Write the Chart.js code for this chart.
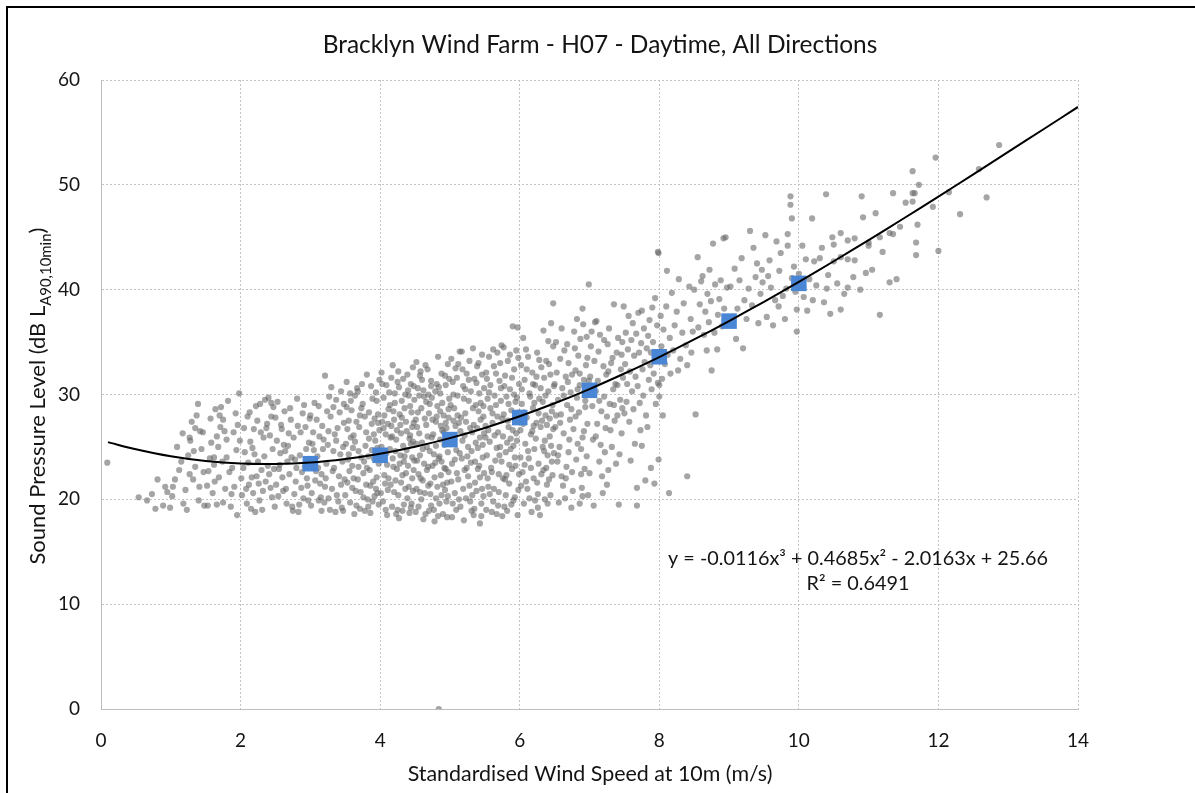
<!DOCTYPE html>
<html><head><meta charset="utf-8">
<script src="https://cdn.jsdelivr.net/npm/chart.js@4.4.1/dist/chart.umd.min.js"></script>
<style>html,body{margin:0;padding:0;background:#fff;}canvas{display:block;}</style>
</head><body><canvas id="c" width="1195" height="793"></canvas>
<script>
const chartTitle = 'Bracklyn Wind Farm - H07 - Daytime, All Directions';
const xAxisTitle = 'Standardised Wind Speed at 10m (m/s)';
const yAxisTitleMain = 'Sound Pressure Level (dB L';
const yAxisTitleSub = 'A90,10min';
const yAxisTitleEnd = ')';
const trendEquation = 'y = -0.0116x³ + 0.4685x² - 2.0163x + 25.66';
const trendR2 = 'R² = 0.6491';

const xTicks = [0, 2, 4, 6, 8, 10, 12, 14];
const yTicks = [0, 10, 20, 30, 40, 50, 60];

// bin-average squares
const binX = [3, 4, 5, 6, 7, 8, 9, 10];
const binY = [23.4, 24.2, 25.7, 27.8, 30.4, 33.6, 37.0, 40.6];

// trend line
const trendX = [0.1,0.5,1,1.5,2,2.5,3,3.5,4,4.5,5,5.5,6,6.5,7,7.5,8,8.5,9,9.5,10,10.5,11,11.5,12,12.5,13,13.5,14];
const trendY = [25.46,24.77,24.10,23.65,23.41,23.37,23.51,23.85,24.35,25.02,25.84,26.81,27.92,29.16,30.52,32.00,33.57,35.25,37.01,38.84,40.75,42.71,44.73,46.79,48.88,51.00,53.14,55.28,57.43];

// measured 10-min points [wind speed, level]
const measuredLow = [
[0.09,23.5],[0.54,20.2],[0.73,20.5],[0.89,19.4],[0.99,19.2],[0.92,21.2],[0.66,19.9],[0.81,21.9],[0.95,20.7],[0.78,19.1],
[1.03,21.2],[1.06,21.9],[1.02,20.3],[1.17,26.3],[1.39,29.1],[1.27,25.9],[1.28,25.6],[1.35,26.8],[1.42,26.5],[1.46,26.4],[1.25,24.2],[1.35,23.1],[1.27,22.4],[1.32,21.9],[1.18,19.6],[1.40,19.9],[1.48,19.4],[1.12,22.8],[1.21,20.9],[1.44,24.8],[1.09,25.0],[1.37,28.0],[1.30,27.4],[1.15,23.6],[1.47,22.6],[1.23,19.0],[1.41,21.2],[1.33,24.6],
[1.52,21.3],[1.63,21.7],[1.56,23.9],[1.62,24.0],[1.62,23.3],[1.74,23.6],[1.80,24.0],[1.66,19.5],[1.75,19.7],[1.86,19.3],[1.58,25.4],[1.66,26.0],[1.71,26.9],[1.70,28.0],[1.72,28.8],[1.75,27.6],[1.77,26.5],[1.80,25.7],[1.53,19.4],[1.60,20.6],[1.69,22.1],[1.84,22.6],[1.91,21.2],[1.95,18.5],[1.98,30.1],[1.93,28.2],[1.96,27.1],[1.99,25.6],[1.94,24.7],[1.88,23.0],[1.57,27.7],[1.64,28.6],[1.82,29.4],[1.87,20.5],[1.78,21.0],[1.54,22.7],[1.90,26.4],[1.68,25.0],
[2.02,20.4],[2.08,21.0],[2.12,21.4],[2.16,22.1],[2.18,20.6],[2.22,28.9],[2.28,29.1],[2.35,29.5],[2.40,29.7],[2.44,29.2],[2.47,28.8],[2.05,26.8],[2.10,27.9],[2.14,25.5],[2.20,24.3],[2.25,23.6],[2.30,22.8],[2.33,25.9],[2.38,27.2],[2.42,26.1],[2.46,24.8],[2.04,23.0],[2.09,19.6],[2.15,19.1],[2.21,18.8],[2.27,19.9],[2.32,20.8],[2.36,21.7],[2.41,22.4],[2.45,20.2],[2.49,19.3],[2.06,24.5],[2.11,23.5],[2.19,26.7],[2.24,27.5],[2.29,26.4],[2.34,24.1],[2.39,23.2],[2.43,21.1],[2.48,22.9],[2.13,28.3],[2.26,21.5],[2.31,19.0],[2.37,26.8],[2.17,24.9],[2.23,22.2],[2.44,27.9],[2.01,22.0],
[2.53,29.3],[2.71,28.7],[2.58,27.1],[2.86,26.4],[2.62,25.2],[2.94,24.8],[2.67,23.6],[2.55,22.9],[2.79,21.7],[2.61,20.8],[2.90,20.1],[2.74,19.3],[2.83,18.8],[2.97,19.9],[2.51,21.4],[2.66,19.6],[2.88,22.6],[2.57,24.4],[2.76,25.9],[2.99,27.7],[2.63,28.4],[2.81,29.6],[2.69,26.3],[2.92,23.1],[2.54,20.3],[2.78,23.8],[2.96,21.3],[2.60,22.1],[2.85,24.2],[2.72,27.6],[2.52,25.6],[2.89,28.2],[2.65,21.0],[2.98,25.4],[2.77,20.5],[2.59,26.7],[2.84,19.5],[2.70,22.4],[2.93,26.9],[2.56,23.3],[2.82,27.0],[2.64,24.6],[2.95,22.0],[2.75,18.9],[2.87,21.1],[2.68,25.1],[2.91,29.0],[2.50,27.8],[2.80,23.0],[2.73,24.0]
];
const measuredMid = [
[3.04,26.4],[3.21,31.8],[3.12,28.9],[3.37,29.5],[3.08,22.7],[3.26,20.1],[3.45,19.2],[3.16,18.9],[3.33,24.6],[3.48,27.3],[3.02,20.6],[3.19,25.7],[3.41,22.2],[3.29,27.9],[3.06,29.2],[3.44,30.3],[3.14,21.5],[3.36,18.8],[3.23,23.4],[3.47,25.0],[3.10,24.1],[3.31,21.0],[3.01,19.4],[3.27,29.8],[3.39,26.8],[3.17,27.0],[3.49,21.9],[3.05,23.8],[3.34,23.0],[3.20,19.7],[3.42,28.3],[3.13,26.0],[3.25,25.2],[3.46,23.6],[3.09,27.6],[3.30,30.7],[3.38,20.4],[3.03,25.3],[3.22,22.0],[3.15,20.2],[3.35,26.2],[3.43,24.3],[3.11,23.0],[3.28,19.0],[3.07,21.8],[3.40,19.8],[3.24,28.4],[3.18,24.8],[3.32,22.7],[3.48,29.1],[3.00,28.0],[3.26,26.5],[3.44,21.4],[3.12,19.9],[3.37,25.6],[3.21,21.2],[3.05,24.7],[3.47,18.9],[3.33,28.8],[3.16,22.4],
[3.52,31.2],[3.67,30.6],[3.81,31.9],[3.94,30.2],[3.58,29.4],[3.73,28.7],[3.89,29.6],[3.55,27.5],[3.62,26.1],[3.78,27.9],[3.97,28.1],[3.51,25.3],[3.69,24.6],[3.84,25.8],[3.99,26.6],[3.60,23.2],[3.76,22.5],[3.91,23.9],[3.53,21.6],[3.65,20.8],[3.80,21.4],[3.95,22.1],[3.57,19.7],[3.71,19.1],[3.86,18.7],[3.98,19.5],[3.63,18.6],[3.92,20.3],[3.54,23.8],[3.70,26.9],[3.83,24.1],[3.96,24.9],[3.59,28.5],[3.74,31.0],[3.88,27.2],[3.56,22.7],[3.68,21.9],[3.82,20.0],[3.93,25.6],[3.61,24.9],[3.77,23.6],[3.90,21.7],[3.64,29.9],[3.79,25.1],[3.87,30.8],[3.50,20.4],[3.66,27.4],[3.85,22.8],[3.97,27.3],[3.72,20.7],[3.58,25.9],[3.75,29.1],[3.89,19.8],[3.62,22.0],[3.80,26.4],[3.94,21.0],[3.53,26.7],[3.69,23.1],[3.84,28.3],[3.98,23.4],[3.57,30.1],[3.73,24.0],[3.91,26.2],[3.66,19.4],[3.81,23.0],[3.95,29.4],[3.55,24.3],[3.78,18.9],[3.88,24.7],[3.60,21.1],[3.71,28.0],[3.86,21.3],[3.99,31.4],[3.64,25.5],[3.76,20.2],[3.92,27.7],[3.52,28.8],[3.83,19.3],[3.68,30.3],[3.96,20.6],
[4.02,32.1],[4.18,32.8],[4.33,31.5],[4.47,32.6],[4.09,30.9],[4.25,31.2],[4.40,30.4],[4.05,29.7],[4.21,29.2],[4.36,30.0],[4.49,29.5],[4.12,28.6],[4.28,28.1],[4.43,28.9],[4.03,27.4],[4.16,27.0],[4.31,27.8],[4.46,26.9],[4.08,26.2],[4.23,25.7],[4.38,26.5],[4.14,24.8],[4.29,24.2],[4.44,25.3],[4.01,23.9],[4.19,23.1],[4.34,23.6],[4.48,22.8],[4.06,22.3],[4.22,21.8],[4.37,22.5],[4.11,20.9],[4.26,20.4],[4.41,21.2],[4.04,19.8],[4.17,19.3],[4.32,18.9],[4.45,19.6],[4.10,18.5],[4.27,18.2],[4.42,18.7],[4.07,21.5],[4.24,22.9],[4.39,20.1],[4.15,25.9],[4.30,26.3],[4.46,24.0],[4.02,25.0],[4.20,27.6],[4.35,28.7],[4.13,30.2],[4.27,30.7],[4.44,31.0],[4.06,28.0],[4.33,25.1],[4.48,27.3],[4.18,23.9],[4.40,23.2],[4.09,24.4],[4.25,19.0],[4.36,21.0],[4.01,20.6],[4.47,20.8],[4.22,24.6],[4.31,29.4],[4.12,22.0],[4.43,26.1],[4.16,31.6],[4.38,24.7],[4.03,31.0],[4.28,23.4],[4.49,23.7],[4.11,27.2],[4.24,26.6],[4.34,19.5],[4.45,28.3],[4.08,19.0],[4.20,20.7],[4.41,29.9],[4.14,29.0],[4.30,21.6],[4.05,26.8],[4.37,27.4],[4.19,28.4],[4.46,22.0],[4.26,32.2],[4.42,25.8],[4.10,23.3],[4.32,22.3],[4.23,18.6],[4.48,30.8],[4.15,21.4],[4.39,31.9],[4.04,24.0],[4.29,27.1],[4.44,19.2],[4.17,26.0],[4.35,24.1],[4.21,30.1],[4.47,25.5],
[4.52,33.1],[4.68,32.4],[4.83,33.6],[4.97,32.9],[4.57,31.8],[4.73,31.3],[4.88,32.0],[4.54,30.6],[4.63,29.8],[4.79,30.3],[4.94,30.9],[4.59,28.7],[4.71,29.1],[4.86,28.4],[4.99,29.6],[4.51,27.6],[4.66,27.1],[4.81,27.9],[4.95,26.8],[4.56,26.3],[4.74,25.9],[4.89,26.6],[4.61,24.8],[4.77,24.3],[4.92,25.2],[4.53,23.7],[4.69,23.1],[4.84,23.9],[4.98,22.6],[4.58,22.0],[4.72,21.5],[4.87,22.3],[4.64,20.6],[4.80,20.1],[4.93,20.9],[4.55,19.3],[4.70,18.9],[4.85,19.6],[4.96,18.3],[4.62,18.1],[4.78,17.9],[4.90,18.6],[4.52,21.0],[4.67,22.8],[4.82,21.2],[4.97,24.5],[4.60,25.4],[4.75,27.6],[4.91,28.0],[4.54,28.3],[4.69,30.0],[4.84,30.7],[4.99,31.5],[4.65,32.8],[4.80,25.1],[4.94,27.3],[4.57,24.2],[4.73,19.4],[4.88,20.4],[4.51,18.8],[4.63,23.4],[4.78,22.1],[4.92,23.0],[4.59,20.0],[4.76,26.2],[4.86,25.7],[4.96,21.6],[4.66,29.3],[4.81,31.0],[4.53,26.9],[4.71,24.6],[4.89,29.2],[4.98,27.8],[4.61,21.8],[4.74,29.7],[4.83,18.4],[4.95,19.8],[4.56,29.9],[4.68,26.0],[4.87,27.0],[4.58,32.2],[4.79,23.5],[4.93,31.8],[4.64,27.7],[4.72,20.5],[4.85,24.1],[4.99,25.8],[4.55,22.4],[4.70,28.2],[4.90,21.4],[4.62,30.4],[4.77,19.0],[4.82,28.9],[4.97,20.3],[4.67,25.0],[4.84,0.0],[4.60,31.4],[4.75,23.2],[4.91,26.4],[4.57,20.7],[4.80,27.4],[4.94,22.9],[4.65,18.6],[4.73,30.8],[4.88,23.6],[4.52,25.3],[4.69,21.3],[4.86,30.1],[4.98,28.6]
];
const measuredUpper = [
[5.02,33.4],[5.17,34.1],[5.33,34.4],[5.46,33.8],[5.14,34.1],[5.08,32.5],[5.24,32.0],[5.39,32.7],[5.04,31.2],[5.19,30.8],[5.35,31.5],[5.49,30.6],[5.11,29.9],[5.27,29.4],[5.42,30.1],[5.06,28.7],[5.22,28.2],[5.37,29.0],[5.48,27.9],[5.13,27.3],[5.29,26.8],[5.44,27.6],[5.01,26.1],[5.18,25.6],[5.32,26.4],[5.47,25.2],[5.09,24.7],[5.25,24.1],[5.40,24.9],[5.03,23.4],[5.21,22.8],[5.36,23.6],[5.49,22.5],[5.12,21.9],[5.28,21.3],[5.43,22.1],[5.07,20.6],[5.23,20.1],[5.38,20.8],[5.15,19.3],[5.31,18.9],[5.45,19.6],[5.03,18.3],[5.20,18.0],[5.43,17.7],[5.34,18.5],[5.10,22.5],[5.26,25.0],[5.41,28.4],[5.05,30.0],[5.16,27.8],[5.30,30.3],[5.46,31.9],[5.12,32.9],[5.28,33.2],[5.01,29.0],[5.21,26.1],[5.36,21.6],[5.48,20.3],[5.09,19.0],[5.24,23.0],[5.39,26.8],[5.14,24.4],[5.33,28.7],[5.47,24.0],[5.06,25.7],[5.19,21.0],[5.35,19.1],[5.44,29.2],[5.11,28.0],[5.27,31.4],[5.40,22.9],[5.02,21.7],[5.17,23.9],[5.31,24.6],[5.49,26.3],[5.08,27.0],[5.22,30.5],[5.37,25.4],[5.45,18.4],[5.13,20.0],[5.29,19.8],[5.42,23.2],[5.04,19.6],[5.20,29.6],[5.34,27.1],[5.48,28.9],[5.15,26.5],[5.26,22.2],[5.38,31.1],[5.07,23.8],[5.23,27.4],[5.46,21.0],[5.18,32.4],[5.32,20.4],[5.43,25.9],[5.05,27.5],[5.30,23.5],[5.10,31.6],[5.41,33.0],
[5.74,34.7],[5.77,34.5],[5.90,36.5],[5.97,36.4],[5.56,33.6],[5.68,34.0],[5.83,33.2],[5.95,34.2],[5.52,32.1],[5.63,32.7],[5.79,31.8],[5.92,32.4],[5.58,30.9],[5.71,31.3],[5.86,30.5],[5.99,31.0],[5.54,29.6],[5.66,29.0],[5.81,29.8],[5.94,29.3],[5.61,28.2],[5.75,27.7],[5.88,28.5],[5.51,27.0],[5.69,26.4],[5.84,26.9],[5.97,27.4],[5.57,25.5],[5.72,25.0],[5.87,25.8],[5.53,24.2],[5.65,23.7],[5.80,24.5],[5.93,24.0],[5.60,22.6],[5.76,22.0],[5.89,22.9],[5.55,21.2],[5.70,20.7],[5.85,21.5],[5.98,20.9],[5.62,19.8],[5.78,19.3],[5.91,19.9],[5.67,18.6],[5.75,18.4],[5.82,18.9],[5.97,18.5],[5.52,19.0],[5.64,26.1],[5.73,29.4],[5.86,33.8],[5.99,28.3],[5.59,23.0],[5.71,24.2],[5.83,27.5],[5.96,25.6],[5.56,30.2],[5.68,27.9],[5.81,22.3],[5.94,23.2],[5.63,21.0],[5.78,30.8],[5.90,26.6],[5.51,25.9],[5.66,32.0],[5.80,20.4],[5.92,30.0],[5.58,28.7],[5.74,23.6],[5.87,24.8],[5.99,22.4],[5.54,22.0],[5.69,19.4],[5.84,29.1],[5.95,26.3],[5.61,27.3],[5.76,26.0],[5.89,31.6],[5.53,31.5],[5.67,24.9],[5.79,21.9],[5.93,20.2],[5.57,20.5],[5.72,33.0],[5.85,23.3],[5.98,33.5],[5.64,29.9],[5.77,28.1],[5.91,25.1],[5.55,26.6],[5.70,22.4],[5.82,25.4],[5.96,29.7],[5.60,18.8],[5.88,19.5],[5.73,30.6],[5.62,34.3],
[6.05,35.4],[6.09,34.3],[6.45,36.8],[6.48,38.7],[6.48,34.6],[6.12,33.6],[6.25,34.0],[6.38,33.2],[6.02,32.8],[6.18,32.1],[6.31,32.6],[6.44,31.9],[6.07,31.4],[6.22,30.9],[6.35,31.6],[6.49,30.8],[6.14,30.1],[6.28,29.6],[6.41,30.3],[6.03,29.1],[6.19,28.7],[6.33,29.3],[6.46,28.4],[6.10,27.8],[6.24,27.3],[6.37,28.0],[6.01,26.6],[6.16,26.2],[6.30,26.9],[6.43,26.0],[6.08,25.3],[6.21,24.8],[6.36,25.6],[6.13,23.9],[6.27,23.4],[6.40,24.2],[6.04,22.6],[6.20,22.0],[6.34,22.8],[6.47,22.3],[6.11,21.0],[6.26,20.5],[6.39,21.4],[6.06,19.6],[6.26,19.2],[6.29,18.5],[6.40,19.6],[6.17,18.8],[6.44,20.4],[6.15,29.8],[6.32,27.5],[6.48,26.7],[6.06,28.3],[6.23,25.8],[6.38,23.0],[6.01,24.0],[6.19,31.0],[6.42,32.9],[6.09,21.7],[6.28,33.3],[6.35,24.6],[6.47,29.0],[6.12,24.6],[6.25,21.6],[6.39,27.1],[6.03,30.5],[6.21,29.2],[6.45,25.1],[6.14,20.1],[6.30,30.6],[6.42,21.9],[6.07,23.3],[6.24,31.7],[6.36,20.0],[6.49,24.4],[6.18,26.5],[6.33,25.0],[6.10,32.4],[6.27,28.2],[6.43,27.7],[6.02,21.3],[6.20,27.0],[6.37,29.9],[6.46,23.6],[6.16,23.0],[6.31,22.4],[6.05,27.2],[6.22,19.9],[6.41,35.1],[6.34,36.1],
[6.99,40.5],[6.90,38.2],[6.56,19.7],[6.74,19.2],[6.86,19.6],[6.90,20.3],[6.98,20.4],[6.60,22.2],[6.75,22.6],[6.88,22.4],[6.87,35.3],[6.96,35.5],[6.52,35.0],[6.64,34.2],[6.78,36.0],[6.58,33.4],[6.70,33.0],[6.84,33.7],[6.95,32.8],[6.53,32.1],[6.66,31.7],[6.80,32.3],[6.92,31.4],[6.61,30.6],[6.73,30.2],[6.86,30.9],[6.98,30.0],[6.55,29.5],[6.68,29.0],[6.82,29.7],[6.94,28.8],[6.59,28.1],[6.72,27.6],[6.85,28.3],[6.97,27.2],[6.51,26.9],[6.63,26.3],[6.77,26.7],[6.90,25.9],[6.57,25.0],[6.70,24.5],[6.83,25.3],[6.96,24.1],[6.54,23.6],[6.67,23.1],[6.81,23.8],[6.93,22.9],[6.62,21.3],[6.76,20.8],[6.89,21.1],[6.65,20.1],[6.80,27.9],[6.92,26.5],[6.50,31.0],[6.69,31.2],[6.83,30.5],[6.97,33.5],[6.58,27.3],[6.74,28.6],[6.88,24.8],[6.55,24.2],[6.71,25.7],[6.86,32.0],[6.63,29.9],[6.79,34.4],[6.94,29.4],[6.52,28.0],[6.68,34.8],[6.91,36.7],[6.82,37.2],[6.60,36.3],[6.75,31.9],[6.99,31.3],[6.66,22.0]
];
const measuredHigh = [
[7.06,19.4],[7.42,19.5],[7.08,36.9],[7.10,37.0],[7.35,38.6],[7.49,38.4],[7.22,24.5],[7.30,26.6],[7.27,22.8],[7.38,23.4],[7.18,22.2],[7.03,36.0],[7.15,35.7],[7.28,36.3],[7.41,35.4],[7.02,34.6],[7.13,34.1],[7.26,34.8],[7.39,34.0],[7.47,35.0],[7.07,33.2],[7.20,32.7],[7.33,33.5],[7.45,32.4],[7.01,31.7],[7.12,31.3],[7.24,31.9],[7.37,31.0],[7.48,31.6],[7.09,30.3],[7.21,29.8],[7.34,30.5],[7.44,29.5],[7.04,28.9],[7.17,28.4],[7.29,29.1],[7.40,28.0],[7.11,27.2],[7.23,26.8],[7.36,27.5],[7.46,26.3],[7.05,25.7],[7.16,25.2],[7.32,25.0],[7.43,24.3],[7.14,23.6],[7.25,21.4],[7.00,22.5],[7.19,20.6],[7.31,33.0],[7.46,33.8],[7.03,30.8],[7.27,32.2],[7.14,29.4],[7.40,30.9],[7.21,35.2],[7.35,29.0],[7.09,26.0],[7.47,28.7],[7.25,27.9],
[7.68,19.4],[7.68,21.1],[7.75,25.1],[7.99,23.8],[7.88,23.0],[7.80,21.8],[7.93,21.5],[7.72,29.2],[7.98,31.1],[7.86,37.1],[7.90,38.3],[7.94,39.2],[7.99,43.5],[7.98,43.6],[7.56,37.5],[7.62,36.8],[7.70,37.8],[7.78,36.3],[7.84,35.6],[7.52,35.9],[7.60,35.2],[7.67,35.8],[7.74,34.9],[7.82,34.4],[7.91,35.0],[7.55,34.3],[7.64,33.7],[7.71,34.0],[7.79,33.1],[7.87,32.8],[7.96,33.6],[7.51,32.9],[7.58,32.2],[7.66,31.7],[7.76,32.4],[7.85,31.4],[7.92,32.0],[7.54,31.0],[7.61,30.3],[7.69,30.8],[7.77,29.9],[7.89,30.5],[7.53,29.3],[7.63,28.6],[7.81,28.0],[7.57,27.4],[7.73,26.6],[7.65,25.3],[7.59,23.7],[7.83,26.9],[7.95,29.1],[7.97,36.6],[7.88,34.0],[7.75,38.0],[7.50,28.2],
[8.00,30.9],[8.00,29.8],[8.05,28.0],[8.14,20.6],[8.40,22.2],[8.04,31.5],[8.27,32.3],[8.40,32.8],[8.02,37.5],[8.10,38.4],[8.18,39.7],[8.25,37.9],[8.06,36.2],[8.15,35.4],[8.22,36.6],[8.33,35.9],[8.45,37.2],[8.03,34.6],[8.12,33.8],[8.20,34.2],[8.30,33.4],[8.38,34.7],[8.48,36.0],[8.08,32.9],[8.16,32.0],[8.35,38.7],[8.43,40.3],[8.28,41.0],[8.46,34.0],[8.11,41.8],
[8.52,28.1],[8.55,43.1],[8.50,40.0],[8.60,40.8],[8.68,34.2],[8.75,32.3],[8.83,34.3],[8.95,45.0],[8.62,41.3],[8.72,41.9],[8.80,40.5],[8.88,40.9],[8.58,38.6],[8.66,37.9],[8.74,38.9],[8.84,37.6],[8.93,38.2],[8.56,36.4],[8.64,35.7],[8.71,36.9],[8.79,35.9],[8.90,36.5],[8.98,37.3],[8.69,39.6],[8.86,39.1],[8.97,40.2],[8.77,44.4],[8.92,44.9],
[9.10,35.3],[9.20,34.4],[9.30,45.6],[9.40,42.5],[9.05,37.4],[9.12,38.2],[9.22,39.0],[9.33,38.5],[9.45,39.6],[9.02,40.3],[9.15,40.9],[9.28,40.1],[9.38,41.2],[9.48,40.7],[9.08,42.0],[9.25,37.2],[9.42,36.8],[9.35,44.0],[9.18,43.0],[9.47,41.9],
[9.54,37.4],[9.71,38.4],[9.97,38.1],[9.97,36.0],[9.74,43.5],[9.84,45.3],[9.84,44.2],[9.88,48.9],[9.88,48.1],[9.77,39.4],[9.82,40.1],[9.90,41.1],[9.96,40.6],[9.60,40.2],[9.66,39.0],[9.93,42.2],[9.58,42.8],[9.68,44.6],[9.52,45.2],[9.90,46.8],[9.63,36.6],[9.80,37.2],[9.56,41.3],[9.95,39.8],[9.72,41.8],
[10.07,39.3],[10.20,39.0],[10.19,46.8],[10.39,49.1],[10.10,42.9],[10.22,42.7],[10.30,43.0],[10.45,37.7],[10.40,40.1],[10.42,41.4],[10.00,41.5],[10.15,41.0],[10.33,44.0],[10.48,45.0],[10.25,40.4],[10.05,44.2],[10.36,38.8],[10.12,38.0],
[10.60,38.1],[10.50,42.7],[10.60,43.1],[10.70,42.9],[10.80,42.8],[10.50,44.3],[10.60,45.4],[10.70,44.7],[10.80,44.9],[10.92,46.9],[10.90,48.9],[10.55,40.6],[10.70,40.2],[10.78,41.2],[10.88,40.0],[10.96,41.6],[10.65,39.6],[11.00,44.5],
[11.00,44.2],[11.16,45.0],[11.30,45.4],[11.35,45.3],[11.35,49.2],[11.30,40.7],[11.40,41.0],[11.16,37.6],[11.05,41.9],[11.20,43.6],[11.45,46.0],[11.10,47.3],
[11.53,48.3],[11.63,48.4],[11.63,51.3],[11.63,49.2],[11.72,50.0],[11.66,49.2],[11.70,46.2],[11.68,44.5],[11.68,43.3],[11.92,47.9],[11.96,52.6],[12.00,43.7],[12.15,49.3],[12.31,47.2],[12.58,51.5],[12.69,48.8],[12.87,53.8]
];

const FAMILY = 'Lato, "Open Sans", "DejaVu Sans", sans-serif';
const TEXT = '#141414';

function fitSize(ctx, widthAt100, target) { return 100 * target / widthAt100; }
function w100(ctx, t) { ctx.font = '100px ' + FAMILY; return ctx.measureText(t).width; }

const decorations = {
  id: 'decorations',
  beforeDraw(chart) {
    const ctx = chart.ctx;
    ctx.save();
    ctx.fillStyle = '#ffffff';
    ctx.fillRect(0, 0, chart.width, chart.height);
    ctx.fillStyle = '#000000';
    ctx.fillRect(6, 6, 2, chart.height - 6);
    ctx.fillRect(6, 6, chart.width - 6, 2);
    ctx.restore();
  },
  afterDraw(chart) {
    const ctx = chart.ctx;
    ctx.save();
    ctx.fillStyle = TEXT;
    ctx.textBaseline = 'alphabetic';
    // title
    let s = fitSize(ctx, w100(ctx, chartTitle), 555);
    ctx.font = s + 'px ' + FAMILY;
    ctx.textAlign = 'center';
    ctx.fillText(chartTitle, 600, 53);
    // x title
    s = fitSize(ctx, w100(ctx, xAxisTitle), 365);
    ctx.font = s + 'px ' + FAMILY;
    ctx.fillText(xAxisTitle, 590, 781);
    // equation
    s = fitSize(ctx, w100(ctx, trendEquation), 380);
    ctx.font = s + 'px ' + FAMILY;
    ctx.fillText(trendEquation, 858, 565);
    ctx.fillText(trendR2, 858, 590);
    // y title with subscript
    const subScale = 0.68;
    const tot100 = w100(ctx, yAxisTitleMain) + w100(ctx, yAxisTitleSub) * subScale + w100(ctx, yAxisTitleEnd);
    s = fitSize(ctx, tot100, 337);
    ctx.translate(45, 396);
    ctx.rotate(-Math.PI / 2);
    ctx.textAlign = 'left';
    let x = -337 / 2;
    ctx.font = s + 'px ' + FAMILY;
    ctx.fillText(yAxisTitleMain, x, 0);
    x += ctx.measureText(yAxisTitleMain).width;
    ctx.font = (s * subScale) + 'px ' + FAMILY;
    ctx.fillText(yAxisTitleSub, x, s * 0.28);
    x += ctx.measureText(yAxisTitleSub).width;
    ctx.font = s + 'px ' + FAMILY;
    ctx.fillText(yAxisTitleEnd, x, 0);
    ctx.restore();
  }
};

const toPts = arr => arr.map(p => ({ x: p[0], y: p[1] }));
const measured = toPts([].concat(measuredLow, measuredMid, measuredUpper, measuredHigh));

const gridStyle = { color: '#c4c4c4', lineWidth: 1, drawTicks: false };
const borderStyle = { display: true, color: '#bdbdbd', width: 1, dash: [2, 2] };
const tickFont = { family: FAMILY, size: 19 };

new Chart(document.getElementById('c'), {
  type: 'scatter',
  data: {
    datasets: [
      { type: 'line', label: 'Poly. (Measured)', data: trendX.map((x, i) => ({ x, y: trendY[i] })),
        borderColor: '#000000', borderWidth: 2, pointRadius: 0, tension: 0.3, fill: false, order: 0 },
      { label: 'Bin average', data: binX.map((x, i) => ({ x, y: binY[i] })),
        pointStyle: 'rect', pointRadius: 11, backgroundColor: '#4a86d6', borderWidth: 0, order: 1 },
      { label: 'Measured', data: measured,
        pointRadius: 3.1, backgroundColor: 'rgba(105,105,105,0.6)', borderWidth: 0, order: 2 }
    ]
  },
  options: {
    responsive: false,
    animation: false,
    devicePixelRatio: 1,
    layout: { padding: { left: 0, right: 117, top: 80, bottom: 0 } },
    plugins: { legend: { display: false }, tooltip: { enabled: false }, title: { display: false } },
    events: [],
    scales: {
      x: {
        type: 'linear', min: xTicks[0], max: xTicks[xTicks.length - 1],
        afterBuildTicks: sc => { sc.ticks = xTicks.map(v => ({ value: v })); },
        ticks: { padding: 20, color: TEXT, font: tickFont },
        grid: gridStyle, border: borderStyle,
        title: { display: false, text: xAxisTitle },
        afterFit: sc => { sc.height = 84; }
      },
      y: {
        type: 'linear', min: yTicks[0], max: yTicks[yTicks.length - 1],
        afterBuildTicks: sc => { sc.ticks = yTicks.map(v => ({ value: v })); },
        ticks: { padding: 21, color: TEXT, font: tickFont },
        grid: gridStyle, border: borderStyle,
        title: { display: false, text: yAxisTitleMain + yAxisTitleSub + yAxisTitleEnd },
        afterFit: sc => { sc.width = 101; }
      }
    }
  },
  plugins: [decorations]
});
</script></body></html>
